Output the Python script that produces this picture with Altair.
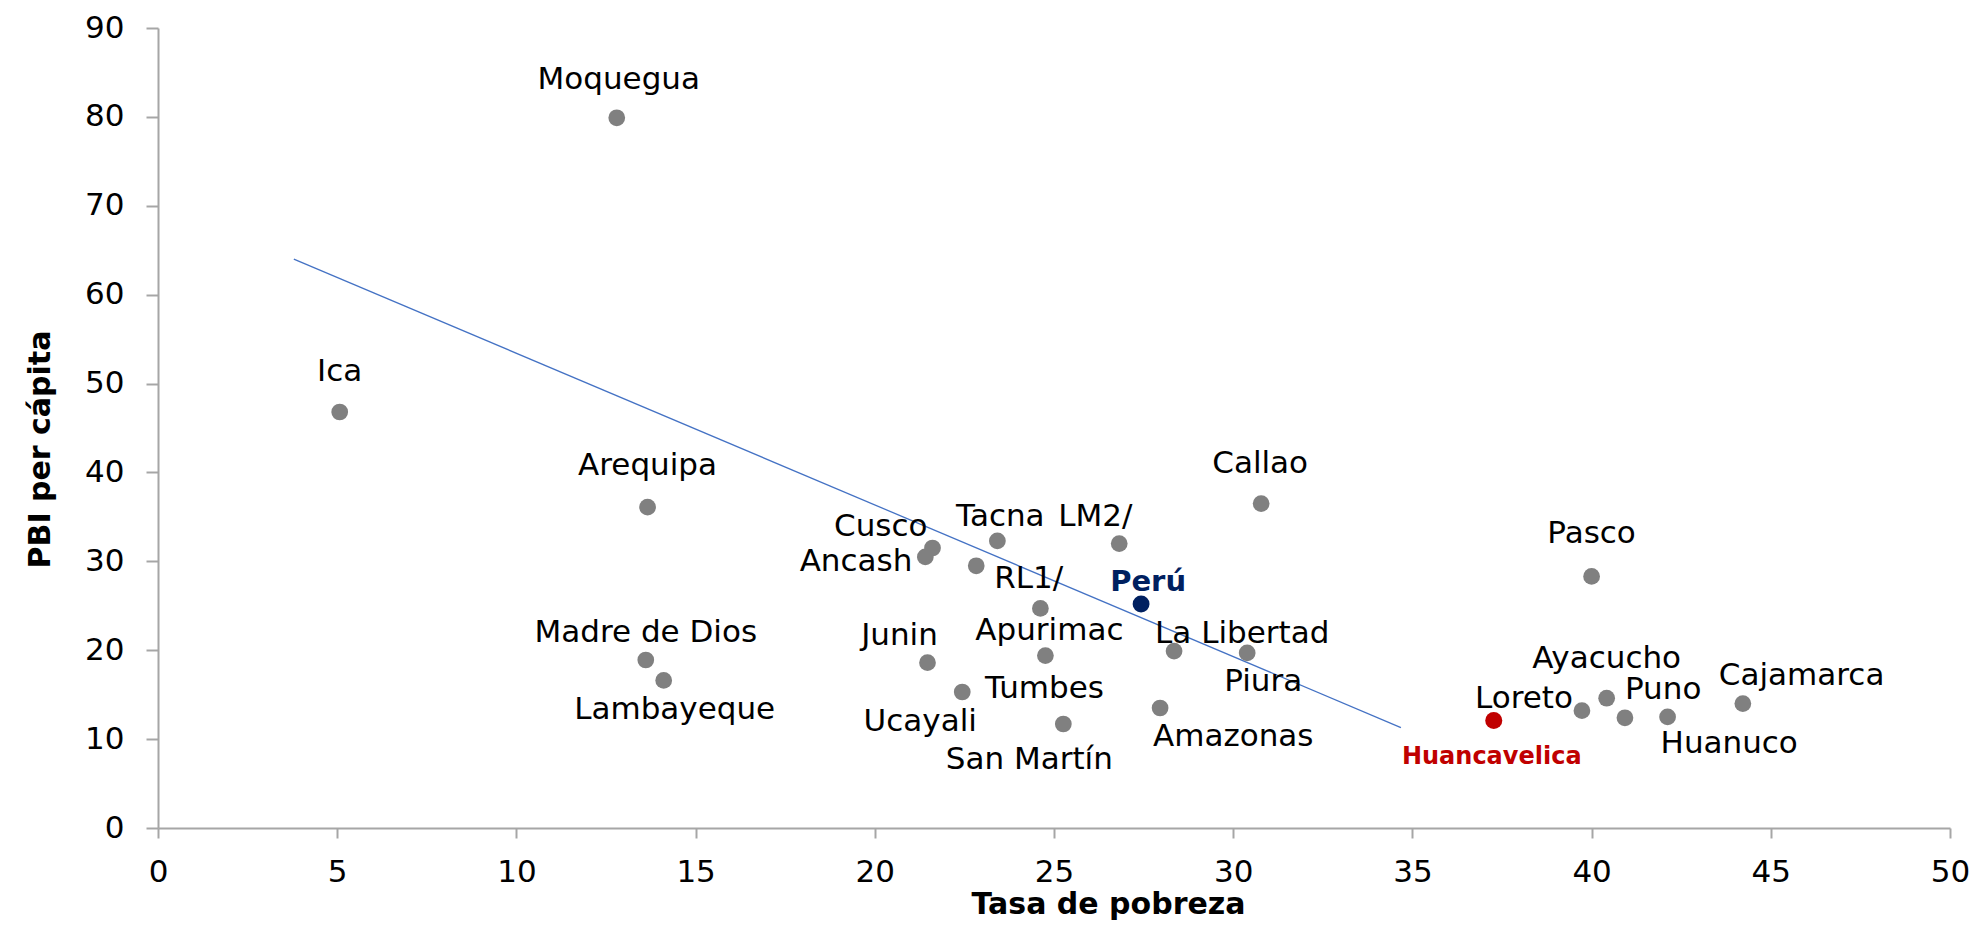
import altair as alt
import pandas as pd

# ---- data ----
NAMES = ["Moquegua", "Ica", "Arequipa", "Madre de Dios", "Lambayeque", "Cusco", "Ancash",
         "Tacna", "LM2/", "RL1/", "Apurimac", "Tumbes", "Ucayali", "San Martín", "Junin",
         "La Libertad", "Piura", "Amazonas", "Perú", "Callao", "Pasco", "Huancavelica",
         "Loreto", "Ayacucho", "Puno", "Huanuco", "Cajamarca"]
POBREZA = [12.80, 5.07, 13.66, 13.61, 14.11, 21.61, 21.41,
           23.42, 26.82, 22.83, 24.62, 24.76, 22.44, 25.26, 21.47,
           28.35, 30.39, 27.96, 27.43, 30.78, 40.00, 37.27,
           39.73, 40.42, 40.93, 42.12, 44.22]
PBI = [79.9, 46.8, 36.1, 18.9, 16.6, 31.5, 30.5,
       32.3, 32.0, 29.5, 24.7, 19.4, 15.3, 11.7, 18.6,
       19.9, 19.7, 13.5, 25.2, 36.5, 28.3, 12.1,
       13.2, 14.6, 12.4, 12.5, 14.0]
GRUPO = ["Regiones"] * len(NAMES)
GRUPO[NAMES.index("Perú")] = "Perú"
GRUPO[NAMES.index("Huancavelica")] = "Huancavelica"

TREND_X = [3.79, 34.68]
TREND_Y = [64.0, 11.3]

X_TICKS = list(range(0, 51, 5))
Y_TICKS = list(range(0, 91, 10))

# ---- label placement (align, dx, dy in px) ----
LABEL_POS = {
    "Moquegua": ("center", 2, -40), "Ica": ("center", 0, -42),
    "Arequipa": ("center", 0, -43), "Madre de Dios": ("center", 0, -29),
    "Lambayeque": ("center", 11, 28), "Cusco": ("right", -5, -23),
    "Ancash": ("right", -13, 3), "Tacna": ("center", 3, -26),
    "LM2/": ("center", -24, -29), "RL1/": ("left", 18, 11),
    "Apurimac": ("center", 9, 21), "Tumbes": ("center", -1, 31),
    "Ucayali": ("center", -42, 28), "San Martín": ("center", -34, 34),
    "Junin": ("center", -28, -29), "La Libertad": ("left", -19, -19),
    "Piura": ("center", 16, 27), "Amazonas": ("left", -7, 27),
    "Perú": ("center", 7, -24), "Callao": ("center", -1, -42),
    "Pasco": ("center", 0, -44), "Huancavelica": ("center", -2, 35),
    "Loreto": ("right", -9, -14), "Ayacucho": ("center", 0, -41),
    "Puno": ("left", 0, -30), "Huanuco": ("left", -7, 25),
    "Cajamarca": ("left", -24, -30),
}

FONT = "DejaVu Sans"
AXIS_GRAY = "#A6A6A6"

df = pd.DataFrame({"name": NAMES, "pobreza": POBREZA, "pbi": PBI, "grupo": GRUPO})
trend = pd.DataFrame({"pobreza": TREND_X, "pbi": TREND_Y})

xscale = alt.Scale(domain=[0, 50], nice=False, zero=False)
yscale = alt.Scale(domain=[0, 90], nice=False, zero=False)

xaxis = alt.Axis(values=X_TICKS, grid=False, domainColor=AXIS_GRAY, domainWidth=2,
                 tickColor=AXIS_GRAY, tickWidth=2, tickSize=10, labelFont=FONT,
                 labelFontSize=31, labelColor="#000000", labelPadding=19,
                 labelFlush=False, labelOverlap=False,
                 title="Tasa de pobreza", titleFont=FONT, titleFontSize=30,
                 titleFontWeight="bold", titleColor="#000000", titleX=950, titleY=85,
                 titleAlign="center", titleBaseline="alphabetic")
yaxis = alt.Axis(values=Y_TICKS, grid=False, domainColor=AXIS_GRAY, domainWidth=2,
                 tickColor=AXIS_GRAY, tickWidth=2, tickSize=12, labelFont=FONT,
                 labelFontSize=31, labelColor="#000000", labelPadding=22,
                 labelFlush=False, labelOverlap=False,
                 title="PBI per cápita", titleFont=FONT, titleFontSize=30,
                 titleFontWeight="bold", titleColor="#000000", titleX=-118, titleY=421,
                 titleAngle=-90, titleAlign="center", titleBaseline="middle")

base = alt.Chart(df)

line = alt.Chart(trend).mark_line(color="#4472C4", strokeWidth=1.3).encode(
    x=alt.X("pobreza:Q", scale=xscale, axis=xaxis),
    y=alt.Y("pbi:Q", scale=yscale, axis=yaxis),
)

points = base.mark_circle(opacity=1).encode(
    x=alt.X("pobreza:Q", scale=xscale),
    y=alt.Y("pbi:Q", scale=yscale),
    color=alt.Color("grupo:N", scale=alt.Scale(domain=["Regiones", "Perú", "Huancavelica"],
                                               range=["#808080", "#002060", "#C00000"]),
                    legend=None),
    size=alt.Size("grupo:N", scale=alt.Scale(domain=["Regiones", "Perú", "Huancavelica"],
                                             range=[280, 290, 350]),
                  legend=None),
)

layers = [line, points]
for n in NAMES:
    align, dx, dy = LABEL_POS[n]
    if n == "Perú":
        style = dict(fontSize=29, fontWeight="bold", color="#002060")
    elif n == "Huancavelica":
        style = dict(fontSize=24, fontWeight="bold", color="#C00000")
    else:
        style = dict(fontSize=31, color="#000000")
    t = base.transform_filter(alt.datum.name == n).mark_text(
        font=FONT, align=align, baseline="middle", dx=dx, dy=dy + 2, **style
    ).encode(
        x=alt.X("pobreza:Q", scale=xscale),
        y=alt.Y("pbi:Q", scale=yscale),
        text="name:N",
    )
    layers.append(t)

chart = alt.layer(*layers).properties(
    width=1792, height=800,
    autosize=alt.AutoSizeParams(type="none"),
    padding={"left": 150, "top": 20, "right": 19, "bottom": 93},
    background="#FFFFFF",
).configure_view(stroke=None)

chart.save("out.html", embed_options={"renderer": "svg", "actions": False})
